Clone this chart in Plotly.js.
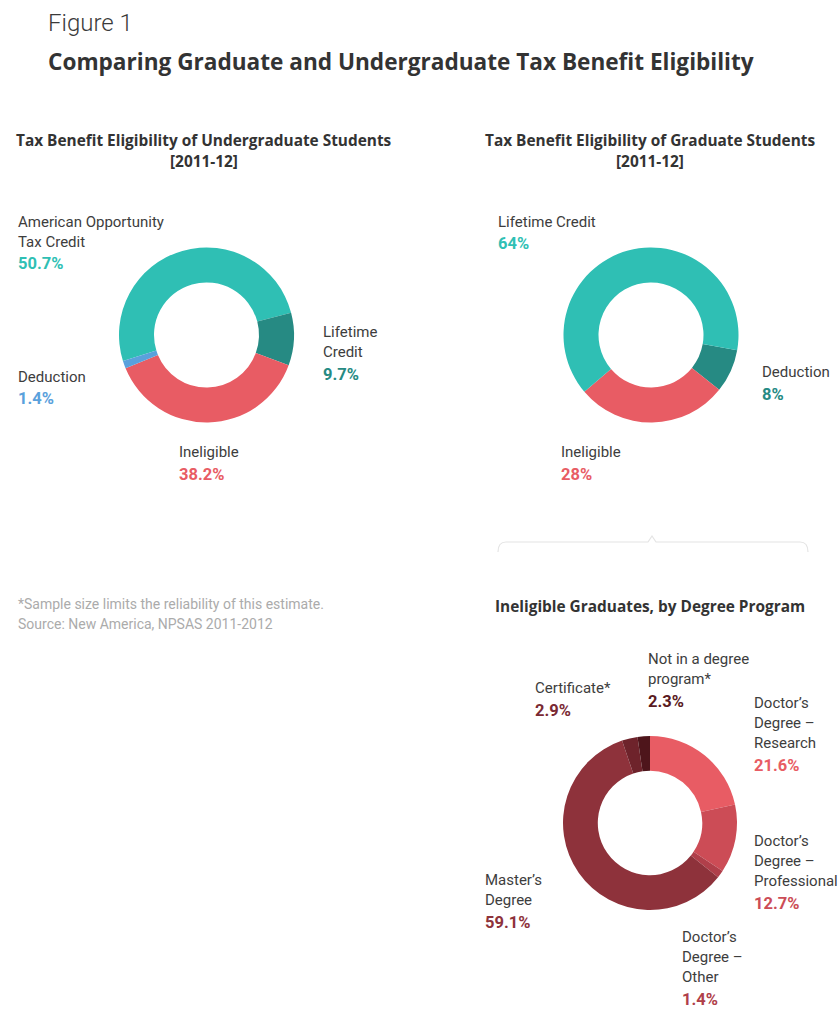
<!DOCTYPE html>
<html>
<head>
<meta charset="utf-8">
<script src="https://cdn.plot.ly/plotly-3.0.1.min.js"></script>
<style>
html,body{margin:0;padding:0;background:#ffffff;}
#chart{width:840px;height:1009px;}
</style>
</head>
<body>
<div id="chart"></div>
<script>
// ---- Data ----
const underLabels = ["American Opportunity Tax Credit", "Lifetime Credit", "Ineligible", "Deduction"];
const underValues = [50.7, 9.7, 38.2, 1.4];
const underColors = ["#2fbfb4", "#268a83", "#e85c64", "#5aa1dc"];

const gradLabels = ["Deduction", "Ineligible", "Lifetime Credit"];
const gradValues = [8, 28, 64];
const gradColors = ["#268a83", "#e85c64", "#2fbfb4"];

const degreeLabels = ["Doctor's Degree – Research", "Doctor's Degree – Professional", "Doctor's Degree – Other", "Master's Degree", "Certificate*", "Not in a degree program*"];
const degreeValues = [21.6, 12.7, 1.4, 59.1, 2.9, 2.3];
const degreeColors = ["#e85c64", "#cc4c56", "#b03f4a", "#8e323b", "#6e232b", "#4e151b"];

// ---- Helpers ----
const W = 840, H = 1009;
const px = x => x / W;
const py = y => 1 - y / H;
const FONT = "Roboto, 'Noto Sans', sans-serif";
const TFONT = "'Open Sans', Roboto, sans-serif";
const fmt = v => v + "%";

function dom(cx, cy, r) {
  return { x: [px(cx - r), px(cx + r)], y: [py(cy + r), py(cy - r)] };
}

function pie(labels, values, colors, domain, rotation) {
  return {
    type: "pie", labels: labels, values: values, hole: 0.6, sort: false,
    direction: "clockwise", rotation: rotation, domain: domain,
    marker: { colors: colors, line: { width: 0 } },
    textinfo: "none", hoverinfo: "label+percent", showlegend: false
  };
}

const data = [
  pie(underLabels, underValues, underColors, dom(206.5, 335, 87.5), -107.3),
  pie(gradLabels, gradValues, gradColors, dom(651, 335, 87.5), 100),
  pie(degreeLabels, degreeValues, degreeColors, dom(650, 823, 87), 0)
];

const ann = [];
function txt(text, x, y, size, color, bold, anchor, family, weight) {
  ann.push({
    text: text,
    x: px(x), y: py(y), xref: "paper", yref: "paper",
    xanchor: anchor || "left", yanchor: "middle", showarrow: false,
    font: { family: family || FONT, size: size, color: color, weight: weight || (bold ? 700 : 400) }
  });
}
function label(lines, pct, color, x, y) {
  lines.forEach((l, i) => txt(l, x - 2, y + i * 20, 15, "#3d3d3d", false));
  txt(fmt(pct), x - 2, y + lines.length * 20 + 2, 16.5, color, true);
}

// Titles
txt("Figure 1", 46, 23, 24, "#3a3a3a", false, "left", FONT, 300);
txt("Comparing Graduate and Undergraduate Tax Benefit Eligibility", 46, 61, 22.6, "#333333", true, "left", TFONT, 700);
txt("Tax Benefit Eligibility of Undergraduate Students", 204, 141, 15.4, "#333333", true, "center", TFONT, 700);
txt("[2011-12]", 204, 161, 15.4, "#333333", true, "center", TFONT, 700);
txt("Tax Benefit Eligibility of Graduate Students", 650, 141, 15.4, "#333333", true, "center", TFONT, 700);
txt("[2011-12]", 650, 161, 15.4, "#333333", true, "center", TFONT, 700);
txt("Ineligible Graduates, by Degree Program", 650, 606, 15.4, "#333333", true, "center", TFONT, 700);

// Undergraduate labels
label(["American Opportunity", "Tax Credit"], underValues[0], underColors[0], 18, 222);
label(["Lifetime", "Credit"], underValues[1], underColors[1], 323, 332);
label(["Deduction"], underValues[3], underColors[3], 18, 377);
label(["Ineligible"], underValues[2], underColors[2], 179, 452);

// Graduate labels
label(["Lifetime Credit"], gradValues[2], gradColors[2], 498, 222);
label(["Deduction"], gradValues[0], gradColors[0], 762, 372);
label(["Ineligible"], gradValues[1], gradColors[1], 561, 452);

// Degree labels
label(["Certificate*"], degreeValues[4], "#7a2a33", 535, 688);
label(["Not in a degree", "program*"], degreeValues[5], "#5a1a21", 648, 659);
label(["Doctor’s", "Degree –", "Research"], degreeValues[0], degreeColors[0], 754, 703);
label(["Doctor’s", "Degree –", "Professional"], degreeValues[1], degreeColors[1], 754, 841);
label(["Master’s", "Degree"], degreeValues[3], degreeColors[3], 485, 880);
label(["Doctor’s", "Degree –", "Other"], degreeValues[2], degreeColors[2], 682, 937);

// Footnote
txt("*Sample size limits the reliability of this estimate.", 16, 604, 14, "#ababab", false);
txt("Source: New America, NPSAS 2011-2012", 16, 624, 14, "#ababab", false);

const layout = {
  width: W, height: H,
  margin: { l: 0, r: 0, t: 0, b: 0 },
  paper_bgcolor: "#ffffff", plot_bgcolor: "#ffffff",
  annotations: ann,
  shapes: [{
    type: "path", xref: "paper", yref: "paper",
    path: "M " + px(498) + "," + py(552) + " Q " + px(498) + "," + py(542) + " " + px(506) + "," + py(542) +
          " L " + px(648) + "," + py(542) + " L " + px(652) + "," + py(536) + " L " + px(656) + "," + py(542) +
          " L " + px(800) + "," + py(542) + " Q " + px(808) + "," + py(542) + " " + px(808) + "," + py(552),
    line: { color: "#e4e4e4", width: 1.2 }
  }]
};

Plotly.newPlot("chart", data, layout, { displayModeBar: false });
</script>
</body>
</html>
